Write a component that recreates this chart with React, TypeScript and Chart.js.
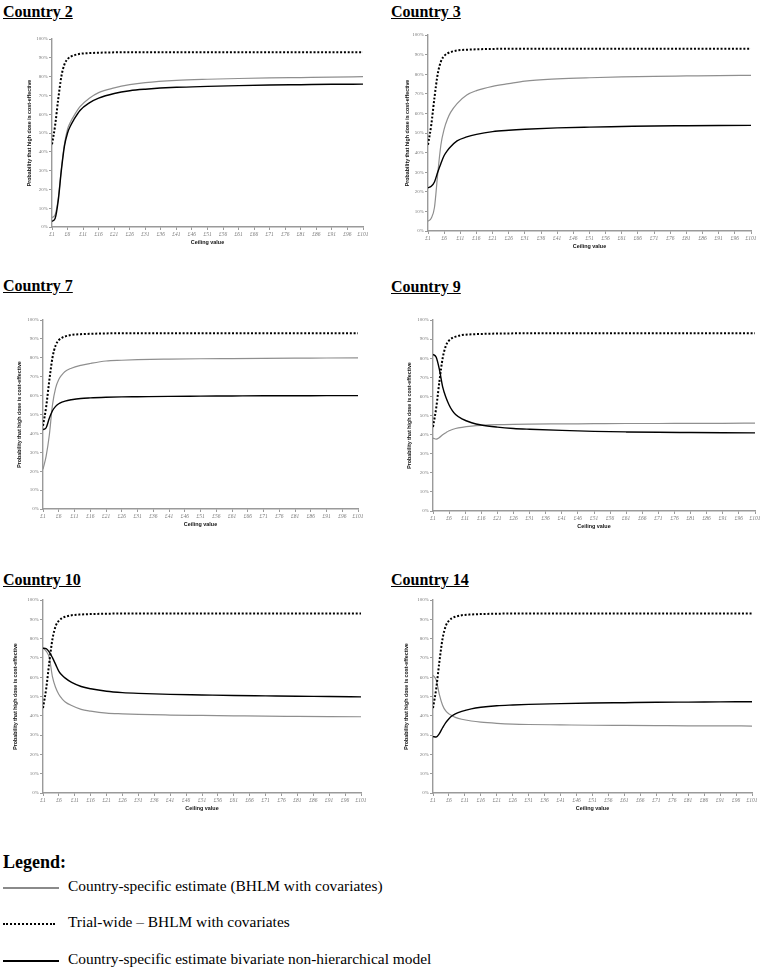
import React, { useEffect, useRef } from "react";
import { Chart, registerables } from "chart.js";
Chart.register(...registerables);

// ---- data ----
const ceilingValues = [1, 2, 3, 4, 5, 6, 7, 8, 10, 13, 16, 21, 26, 31, 41, 51, 61, 71, 81, 91, 101];
const xTickValues = [1, 6, 11, 16, 21, 26, 31, 36, 41, 46, 51, 56, 61, 66, 71, 76, 81, 86, 91, 96, 101];
const yTickValues = [0, 10, 20, 30, 40, 50, 60, 70, 80, 90, 100];

const trialWide = [44, 54, 68, 80, 86.5, 89.3, 90.6, 91.3, 92.1, 92.5, 92.7, 92.9, 93, 93, 93, 93, 93, 93, 93, 93, 93];

const c2Bhlm = [5, 6.5, 15, 31, 44, 52, 56, 59, 64, 68.5, 71.5, 74, 75.7, 76.8, 78, 78.6, 79, 79.3, 79.5, 79.7, 80];
const c2Biv = [3, 4.5, 14, 30, 43, 50, 54, 57, 62, 66, 68.5, 71, 72.5, 73.3, 74.3, 74.8, 75.2, 75.5, 75.7, 75.9, 76];

const c3Bhlm = [5, 6.5, 12, 29, 44, 52, 57, 60.5, 65, 69.4, 71.6, 73.8, 75.2, 76.5, 77.6, 78.2, 78.6, 78.9, 79.1, 79.3, 79.4];
const c3Biv = [22, 22.8, 25, 30, 34.5, 38.5, 41, 43, 46, 48, 49.3, 50.7, 51.4, 51.9, 52.6, 53, 53.3, 53.6, 53.7, 53.8, 53.9];

const c7Bhlm = [21, 28, 39, 55, 64, 68.5, 71, 72.8, 74.5, 76, 77, 78.3, 78.7, 79, 79.3, 79.5, 79.6, 79.7, 79.8, 79.9, 80];
const c7Biv = [42, 43, 48, 52, 54.3, 55.7, 56.5, 57.1, 57.8, 58.5, 58.8, 59.1, 59.3, 59.4, 59.6, 59.7, 59.8, 59.9, 59.9, 60, 60];

const c9Bhlm = [38.2, 37.6, 38.5, 39.9, 41, 42, 42.7, 43.2, 43.8, 44.4, 44.8, 45.2, 45.4, 45.5, 45.6, 45.7, 45.8, 45.8, 45.9, 45.9, 46];
const c9Biv = [82, 80.5, 74, 65, 59.5, 55.5, 52.5, 50.5, 48.2, 46.2, 45, 43.9, 43.2, 42.8, 42.2, 41.7, 41.4, 41.2, 41.1, 41, 40.9];

const c10Bhlm = [75, 73.5, 70, 60, 54.5, 51, 48.8, 47.2, 45.3, 43.3, 42.4, 41.4, 41, 40.7, 40.4, 40.2, 40, 39.8, 39.7, 39.6, 39.5];
const c10Biv = [75, 74.8, 73, 70, 66.5, 63, 61, 59.5, 57.3, 55.2, 54, 52.7, 52, 51.6, 51.1, 50.8, 50.5, 50.3, 50.1, 50, 49.8];

const c14Bhlm = [61, 58.5, 51, 45.5, 42.5, 41, 40, 39.2, 38.2, 37.3, 36.7, 36.1, 35.7, 35.5, 35.3, 35.1, 35, 34.9, 34.8, 34.8, 34.7];
const c14Biv = [29.2, 29, 30.8, 33.8, 36.5, 38.5, 40, 41, 42.3, 43.6, 44.4, 45.2, 45.6, 45.9, 46.3, 46.6, 46.8, 47, 47.1, 47.2, 47.3];

const seriesLabels = [
  "Country-specific estimate (BHLM with covariates)",
  "Trial-wide \u2013 BHLM with covariates",
  "Country-specific estimate bivariate non-hierarchical model",
];

// ---- layout ----
type PanelDef = {
  title: string;
  bhlm: number[];
  biv: number[];
  L: number; T: number; R: number; B: number;
  gap: number;
  titleLeft: number; titleTop: number;
};

const panels: PanelDef[] = [
  { title: "Country 2", bhlm: c2Bhlm, biv: c2Biv, L: 52, T: 39, R: 363, B: 227, gap: 22, titleLeft: 3, titleTop: 3.6 },
  { title: "Country 3", bhlm: c3Bhlm, biv: c3Biv, L: 428, T: 35, R: 751, B: 231, gap: 20, titleLeft: 391, titleTop: 3.6 },
  { title: "Country 7", bhlm: c7Bhlm, biv: c7Biv, L: 43, T: 320, R: 358, B: 509, gap: 23, titleLeft: 3, titleTop: 277.6 },
  { title: "Country 9", bhlm: c9Bhlm, biv: c9Biv, L: 433, T: 320, R: 755, B: 511, gap: 23, titleLeft: 391, titleTop: 278.6 },
  { title: "Country 10", bhlm: c10Bhlm, biv: c10Biv, L: 43, T: 600, R: 361, B: 793, gap: 27, titleLeft: 3, titleTop: 571.6 },
  { title: "Country 14", bhlm: c14Bhlm, biv: c14Biv, L: 433, T: 600, R: 752, B: 793, gap: 26.5, titleLeft: 391, titleTop: 572 },
];

const YW = 34;
const XH = 26;
const PT = 8;
const PR = 10;
const AXIS = "#9a9a9a";
const GREY = "#8f8f8f";

const pts = (vals: number[]) => ceilingValues.map((x, i) => ({ x, y: vals[i] }));

function makeConfig(p: PanelDef): any {
  const yTitleSize = 5.3;
  const yTitleLH = yTitleSize * 1.2;
  const xTitleSize = 5.4;
  const xTitleLH = xTitleSize * 1.2;
  return {
    type: "line",
    data: {
      datasets: [
        {
          label: seriesLabels[1],
          data: pts(trialWide),
          borderColor: "#000",
          borderWidth: 2,
          borderDash: [2, 1.8],
          pointRadius: 0,
          cubicInterpolationMode: "monotone",
          fill: false,
          order: 0,
        },
        {
          label: seriesLabels[2],
          data: pts(p.biv),
          borderColor: "#000",
          borderWidth: 1.4,
          pointRadius: 0,
          cubicInterpolationMode: "monotone",
          fill: false,
          order: 1,
        },
        {
          label: seriesLabels[0],
          data: pts(p.bhlm),
          borderColor: GREY,
          borderWidth: 1.2,
          pointRadius: 0,
          cubicInterpolationMode: "monotone",
          fill: false,
          order: 2,
        },
      ],
    },
    options: {
      responsive: false,
      animation: false,
      events: [],
      layout: { padding: { left: 0, top: PT, right: PR, bottom: 0 } },
      plugins: { legend: { display: false }, tooltip: { enabled: false }, title: { display: false } },
      scales: {
        x: {
          type: "linear",
          min: 1,
          max: 101,
          afterBuildTicks: (s: any) => {
            s.ticks = xTickValues.map((v) => ({ value: v }));
          },
          afterFit: (s: any) => {
            s.height = XH;
          },
          ticks: {
            autoSkip: false,
            maxRotation: 0,
            minRotation: 0,
            padding: 1,
            color: "#7a7a7a",
            font: { family: "Liberation Serif", size: 5.5, style: "italic" },
            callback: (v: any) => "\u00a3" + v,
          },
          grid: { display: true, drawOnChartArea: false, drawTicks: true, tickLength: 3, color: AXIS, lineWidth: 1 },
          border: { display: true, color: AXIS, width: 1.4 },
          title: {
            display: true,
            text: "Ceiling value",
            color: "#111",
            font: { family: "Liberation Sans", size: xTitleSize, weight: "bold" },
            padding: { top: 0, bottom: XH - 16 - xTitleLH / 2 },
          },
        },
        y: {
          type: "linear",
          min: 0,
          max: 100,
          afterBuildTicks: (s: any) => {
            s.ticks = yTickValues.map((v) => ({ value: v }));
          },
          afterFit: (s: any) => {
            s.width = YW;
          },
          ticks: {
            padding: 1,
            color: "#7a7a7a",
            font: { family: "Liberation Serif", size: 5 },
            callback: (v: any) => v + "%",
          },
          grid: { display: true, drawOnChartArea: false, drawTicks: true, tickLength: 3, color: AXIS, lineWidth: 1 },
          border: { display: true, color: AXIS, width: 1.4 },
          title: {
            display: true,
            text: "Probability that high dose is cost-effective",
            color: "#111",
            font: { family: "Liberation Sans", size: yTitleSize, weight: "bold" },
            padding: { top: YW - p.gap - yTitleLH / 2, bottom: 0 },
          },
        },
      },
    },
  };
}

function Panel({ p }: { p: PanelDef }) {
  const ref = useRef<HTMLCanvasElement | null>(null);
  const left = p.L - YW;
  const top = p.T - PT;
  const width = p.R - p.L + YW + PR;
  const height = p.B - p.T + PT + XH;
  useEffect(() => {
    if (!ref.current) return;
    const chart = new Chart(ref.current, makeConfig(p));
    return () => chart.destroy();
  }, []);
  return (
    <>
      <div
        style={{
          position: "absolute",
          left: p.titleLeft,
          top: p.titleTop,
          fontFamily: "'Liberation Serif', serif",
          fontWeight: "bold",
          fontSize: 16,
          lineHeight: "16px",
          textDecoration: "underline",
          whiteSpace: "nowrap",
          color: "#000",
        }}
      >
        {p.title}
      </div>
      <canvas
        ref={ref}
        width={width}
        height={height}
        style={{ position: "absolute", left, top, width, height }}
      />
    </>
  );
}

function LegendRow({ y, kind, text }: { y: number; kind: number; text: string }) {
  let line: React.CSSProperties;
  if (kind === 0) {
    line = { position: "absolute", left: 3, top: y - 1, width: 56, height: 0, borderTop: "2.2px solid #8a8a8a" };
  } else if (kind === 1) {
    line = { position: "absolute", left: 3, top: y - 1, width: 52, height: 0, borderTop: "2.5px dotted #000" };
  } else {
    line = { position: "absolute", left: 3, top: y - 1.3, width: 56, height: 0, borderTop: "2.6px solid #000" };
  }
  return (
    <>
      <div style={line} />
      <div
        style={{
          position: "absolute",
          left: 68,
          top: y - 11,
          fontFamily: "'Liberation Serif', serif",
          fontSize: 15.4,
          lineHeight: "18px",
          whiteSpace: "nowrap",
          color: "#000",
        }}
      >
        {text}
      </div>
    </>
  );
}

export default function App() {
  return (
    <div style={{ position: "absolute", left: 0, top: 0, width: 768, height: 976, background: "#fff", overflow: "hidden" }}>
      {panels.map((p) => (
        <Panel key={p.title} p={p} />
      ))}
      <div
        style={{
          position: "absolute",
          left: 3,
          top: 852,
          fontFamily: "'Liberation Serif', serif",
          fontWeight: "bold",
          fontSize: 18,
          lineHeight: "20px",
          whiteSpace: "nowrap",
          color: "#000",
        }}
      >
        Legend:
      </div>
      <LegendRow y={888} kind={0} text={seriesLabels[0]} />
      <LegendRow y={924} kind={1} text={seriesLabels[1]} />
      <LegendRow y={961} kind={2} text={seriesLabels[2]} />
    </div>
  );
}
